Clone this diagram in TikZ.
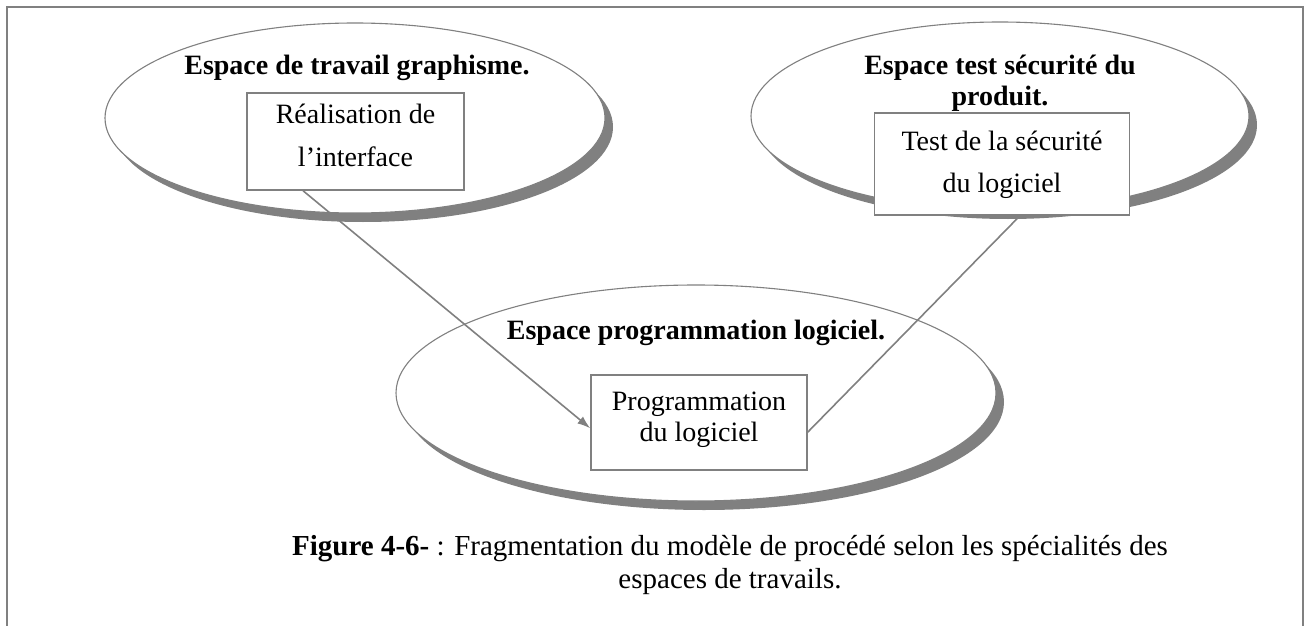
\documentclass[tikz,border=0pt]{standalone}
\usepackage{fontspec}
\setmainfont{Liberation Serif}
\usetikzlibrary{shapes.geometric,shadows,calc,arrows.meta}
\definecolor{edgegray}{RGB}{128,128,128}
\definecolor{shadegray}{RGB}{128,128,128}
\begin{document}
\begin{tikzpicture}[x=1pt,y=-1pt,
  zone/.style={ellipse, draw=edgegray, line width=1.1pt, fill=white, inner sep=0pt,
    general shadow={fill=shadegray, draw=none, shadow xshift=8pt, shadow yshift=-9pt}},
  taskbox/.style={rectangle, draw=edgegray, line width=1.5pt, fill=white, inner sep=0pt},
  tasktext/.style={anchor=base, inner sep=0pt, font=\fontsize{28}{31}\selectfont},
  zonetitle/.style={anchor=base, inner sep=0pt, font=\fontsize{28}{31}\selectfont\bfseries},
  conn/.style={draw=edgegray, line width=1.6pt},
  frameline/.style={draw=edgegray, line width=2pt}]
\useasboundingbox (0,0) rectangle (1310,626);

% outer frame, open at the bottom
\draw[frameline] (7,626) -- (7,7) -- (1303,7) -- (1303,626);

% work spaces
\node[zone, minimum width=500pt, minimum height=190pt] (gspace) at (355,118) {};
\node[zone, minimum width=498pt, minimum height=188pt] (sspace) at (1000,116) {};
\node[zone, minimum width=600pt, minimum height=216pt] (pspace) at (696,393) {};

% space titles
\node[zonetitle] (gtitle) at (357,75) {Espace de travail graphisme.};
\node[zonetitle] (stitle1) at (1000,75) {Espace test sécurité du};
\node[zonetitle] (stitle2) at (1000,106) {produit.};
\node[zonetitle] (ptitle) at (696,339) {Espace programmation logiciel.};

% tasks
\node[taskbox, minimum width=217pt, minimum height=97pt] (lbox) at (355.5,141.5) {};
\node[tasktext] (ltext1) at (lbox.center |- 0,123) {Réalisation de};
\node[tasktext] (ltext2) at (lbox.center |- 0,166) {l’interface};

\node[taskbox, minimum width=255pt, minimum height=102pt] (rbox) at (1002,164) {};
\node[tasktext] (rtext1) at (rbox.center |- 0,150) {Test de la sécurité};
\node[tasktext] (rtext2) at (rbox.center |- 0,192) {du logiciel};

\node[taskbox, minimum width=216pt, minimum height=95pt] (pbox) at (699,422.5) {};
\node[tasktext] (ptext1) at (pbox.center |- 0,410) {Programmation};
\node[tasktext] (ptext2) at (pbox.center |- 0,441) {du logiciel};

% links between tasks
\draw[conn, -{Latex[length=13pt,width=9pt]}]
  ($(lbox.south west)!0.26!(lbox.south east)$) -- ($(pbox.north west)!0.56!(pbox.south west)$);
\draw[conn]
  ($(pbox.north east)!0.6!(pbox.south east)$) -- ($(rbox.south west)!0.57!(rbox.south east)$);

% caption
\node[align=center, inner sep=0pt, font=\fontsize{29}{33}\selectfont] (caption) at (730,565)
  {\textbf{Figure 4-6-} : Fragmentation du modèle de procédé selon les spécialités des\\espaces de travails.};
\end{tikzpicture}
\end{document}
